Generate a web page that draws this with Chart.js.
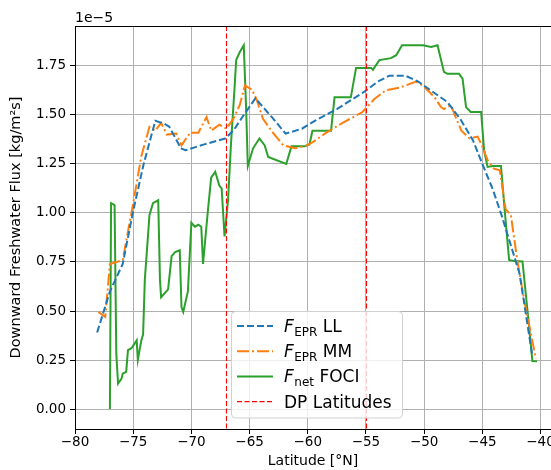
<!DOCTYPE html>
<html>
<head>
<meta charset="utf-8">
<script src="https://cdn.jsdelivr.net/npm/chart.js@4.4.0/dist/chart.umd.min.js"></script>
<style>
html,body{margin:0;padding:0;background:#fff}
</style>
</head>
<body>
<canvas id="fluxChart" width="551" height="470"></canvas>
<script>
// values in units of 1e-5 kg/m2s
const llLat  = [-78.1,-77.0,-75.9,-75.0,-74.1,-73.1,-72.3,-71.9,-70.9,-70.5,-68.9,-67.1,-66.4,-65.5,-64.5,-63.1,-61.9,-60.5,-59.4,-57.5,-55.1,-54.0,-53.0,-51.6,-50.5,-49.3,-48.0,-46.9,-45.8,-45.0,-44.1,-43.3,-41.8,-40.7]
const llFlux = [0.39,0.60,0.74,1.01,1.25,1.47,1.455,1.44,1.33,1.32,1.35,1.38,1.42,1.50,1.585,1.49,1.405,1.43,1.47,1.53,1.62,1.67,1.70,1.70,1.67,1.62,1.566,1.48,1.37,1.25,1.12,0.98,0.69,0.27]

const mmLat  = [-78.0,-77.4,-77.0,-75.9,-75.0,-74.3,-73.6,-73.1,-72.6,-72.1,-71.3,-70.85,-70.1,-69.4,-68.7,-68.3,-67.6,-67.0,-66.4,-65.85,-65.4,-64.8,-64.4,-63.85,-63.0,-62.1,-61.1,-60.1,-59.6,-58.4,-57.0,-55.3,-54.3,-53.3,-52.1,-50.7,-50.1,-49.1,-48.55,-48.3,-47.7,-47.3,-46.8,-46.1,-45.4,-45.0,-44.55,-44.0,-43.5,-43.0,-42.55,-42.0,-41.4,-40.4]
const mmFlux = [0.495,0.47,0.74,0.76,1.05,1.29,1.44,1.42,1.46,1.40,1.405,1.345,1.41,1.41,1.49,1.42,1.45,1.43,1.48,1.55,1.65,1.63,1.58,1.48,1.41,1.345,1.33,1.345,1.36,1.41,1.46,1.515,1.58,1.626,1.64,1.67,1.65,1.59,1.54,1.53,1.55,1.49,1.42,1.38,1.39,1.34,1.27,1.226,1.218,1.02,0.99,0.76,0.555,0.257]

const fociLat  = [-77.0,-76.9,-76.6,-76.45,-76.3,-76.0,-75.9,-75.6,-75.45,-75.15,-74.7,-74.6,-74.3,-74.15,-74.0,-73.6,-73.3,-72.85,-72.7,-72.6,-72.0,-71.7,-71.4,-71.0,-70.85,-70.7,-70.3,-70.0,-69.7,-69.4,-69.15,-69.0,-68.6,-68.3,-67.95,-67.6,-67.4,-67.15,-66.85,-66.6,-66.3,-66.15,-65.85,-65.5,-65.3,-65.15,-64.7,-64.15,-63.7,-63.4,-61.85,-61.4,-60.3,-59.85,-59.6,-58.0,-57.7,-56.3,-55.85,-54.55,-54.4,-53.85,-52.85,-52.4,-51.9,-50.1,-49.4,-48.85,-48.3,-48.0,-47.0,-46.7,-46.4,-46.0,-45.1,-44.85,-44.55,-44.1,-43.4,-43.1,-42.7,-42.3,-41.55,-41.1,-40.7,-40.3]
const fociFlux = [0.0,1.05,1.04,0.28,0.13,0.155,0.18,0.19,0.30,0.31,0.35,0.25,0.35,0.38,0.66,0.99,1.05,1.065,0.66,0.57,0.61,0.78,0.80,0.81,0.52,0.495,0.60,0.95,0.93,0.94,0.93,0.74,1.0,1.18,1.21,1.14,1.125,0.88,1.065,1.35,1.63,1.78,1.82,1.856,1.54,1.24,1.33,1.38,1.345,1.286,1.25,1.34,1.34,1.35,1.42,1.42,1.59,1.59,1.74,1.74,1.73,1.78,1.79,1.805,1.856,1.856,1.847,1.856,1.72,1.71,1.71,1.686,1.54,1.515,1.515,1.32,1.235,1.24,1.24,1.03,0.76,0.755,0.753,0.49,0.245,0.243]

const dpLat = [-67, -55]
const xTicks = [-80,-75,-70,-65,-60,-55,-50,-45,-40]
const yTicks = [0,0.25,0.5,0.75,1.0,1.25,1.5,1.75]

const legendItems = [
  {f:'F', sub:'EPR', rest:' LL', color:'#1f77b4', dash:[7,3]},
  {f:'F', sub:'EPR', rest:' MM', color:'#ff7f0e', dash:[12,3,2,3]},
  {f:'F', sub:'net', rest:' FOCI', color:'#2ca02c', dash:[]},
  {f:'', sub:'', rest:'DP Latitudes', color:'#ff0000', dash:[5,2.5], thin:true}
]

const zip = (xs, ys) => xs.map((x, i) => ({x: x, y: ys[i]}))
const FONT = 'DejaVu Sans'

const extras = {
  id: 'extras',
  afterDatasetsDraw(chart) {
    const ctx = chart.ctx
    const a = chart.chartArea
    const x = chart.scales.x
    ctx.save()
    // DP latitude lines
    ctx.strokeStyle = '#ff0000'
    ctx.lineWidth = 1.1
    ctx.setLineDash([5, 2.5])
    dpLat.forEach(v => {
      const px = Math.round(x.getPixelForValue(v)) + 0.5
      ctx.beginPath(); ctx.moveTo(px, a.top); ctx.lineTo(px, a.bottom); ctx.stroke()
    })
    ctx.setLineDash([])
    // top spine
    ctx.strokeStyle = '#000'
    ctx.lineWidth = 1
    ctx.beginPath(); ctx.moveTo(a.left, a.top + 0.5); ctx.lineTo(a.right, a.top + 0.5); ctx.stroke()
    // offset text
    ctx.fillStyle = '#000'
    ctx.font = '14px "' + FONT + '"'
    ctx.textAlign = 'left'
    ctx.textBaseline = 'alphabetic'
    ctx.fillText('1e\u22125', a.left, a.top - 4)

    // legend
    const bx = 231.5, by = 311.5, bw = 171, bh = 106.5, r = 4
    ctx.fillStyle = 'rgba(255,255,255,0.8)'
    ctx.strokeStyle = '#d0d0d0'
    ctx.beginPath()
    ctx.roundRect(bx, by, bw, bh, r)
    ctx.fill(); ctx.stroke()
    legendItems.forEach((it, i) => {
      const cy = 326 + i * 25.2
      ctx.strokeStyle = it.color
      ctx.lineWidth = it.thin ? 1.1 : 2
      ctx.setLineDash(it.dash)
      ctx.beginPath(); ctx.moveTo(237, cy); ctx.lineTo(273, cy); ctx.stroke()
      ctx.setLineDash([])
      ctx.fillStyle = '#000'
      let tx = 284
      const base = cy + 6
      if (it.f) {
        ctx.font = 'italic 17px "' + FONT + '"'
        ctx.fillText(it.f, tx, base)
        tx += ctx.measureText(it.f).width + 0.5
        ctx.font = '12px "' + FONT + '"'
        ctx.fillText(it.sub, tx, base + 3.5)
        tx += ctx.measureText(it.sub).width
      }
      ctx.font = '17px "' + FONT + '"'
      ctx.fillText(it.rest, tx, base)
    })
    ctx.restore()
  }
}

new Chart(document.getElementById('fluxChart').getContext('2d'), {
  type: 'line',
  data: {
    datasets: [
      {label: 'F_EPR LL', data: zip(llLat, llFlux), borderColor: '#1f77b4', borderWidth: 2, borderDash: [7,3]},
      {label: 'F_EPR MM', data: zip(mmLat, mmFlux), borderColor: '#ff7f0e', borderWidth: 2, borderDash: [12,3,2,3]},
      {label: 'F_net FOCI', data: zip(fociLat, fociFlux), borderColor: '#2ca02c', borderWidth: 2}
    ]
  },
  options: {
    responsive: false,
    animation: false,
    devicePixelRatio: 1,
    elements: {point: {radius: 0}, line: {tension: 0, fill: false}},
    layout: {padding: {top: 26, right: 0, bottom: 0, left: 0}},
    plugins: {legend: {display: false}, tooltip: {enabled: false}},
    scales: {
      x: {
        type: 'linear', min: -80, max: -39.1,
        afterBuildTicks: s => { s.ticks = xTicks.map(v => ({value: v})) },
        afterFit: s => { s.height = 41; s.paddingLeft = 0; s.paddingRight = 0 },
        grid: {color: '#b0b0b0', lineWidth: 1, tickLength: 5, tickColor: '#000'},
        border: {color: '#000', width: 1},
        ticks: {color: '#000', font: {family: FONT, size: 13.5}, padding: 0, maxRotation: 0, autoSkip: false,
          callback: v => String(v).replace('-', '\u2212')},
        title: {display: true, text: 'Latitude [°N]', color: '#000', font: {family: FONT, size: 14}, padding: {top: 0, bottom: 0}}
      },
      y: {
        min: -0.102, max: 1.954,
        afterBuildTicks: s => { s.ticks = yTicks.map(v => ({value: v})) },
        afterFit: s => { s.width = 75; s.paddingTop = 0; s.paddingBottom = 0 },
        grid: {color: '#b0b0b0', lineWidth: 1, tickLength: 5, tickColor: '#000'},
        border: {color: '#000', width: 1},
        ticks: {color: '#000', font: {family: FONT, size: 13.5}, padding: 4, autoSkip: false,
          callback: v => v.toFixed(2)},
        title: {display: true, text: 'Downward Freshwater Flux [kg/m²s]', color: '#000', font: {family: FONT, size: 14.5}, padding: {top: 8, bottom: 0}}
      }
    }
  },
  plugins: [extras]
})
</script>
</body>
</html>
